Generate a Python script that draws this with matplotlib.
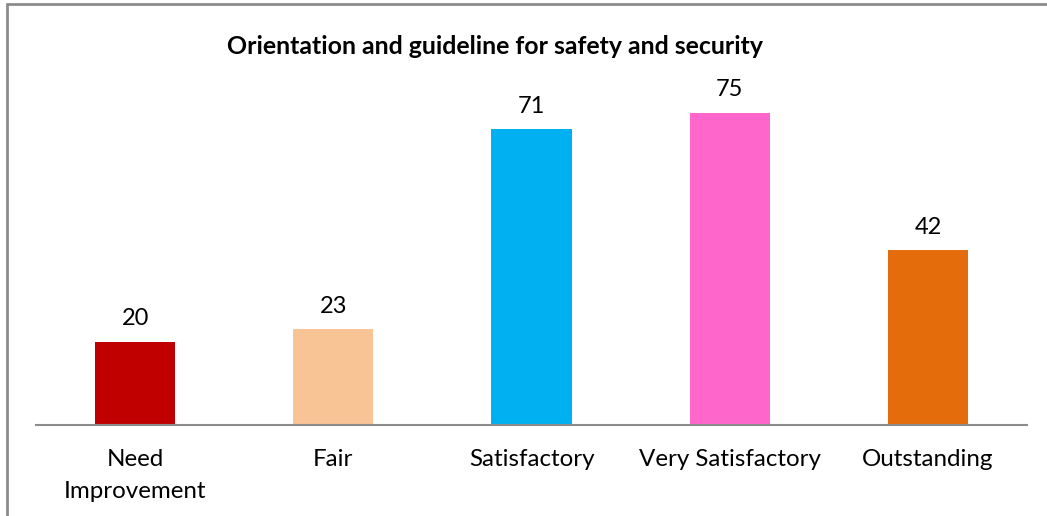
import matplotlib
matplotlib.use("Agg")
import matplotlib.pyplot as plt
from matplotlib.patches import Rectangle

categories = ["Need\nImprovement", "Fair", "Satisfactory", "Very Satisfactory", "Outstanding"]
values = [20, 23, 71, 75, 42]
colors = ["#C00000", "#F8C395", "#00B0F0", "#FF66CC", "#E46C0A"]
title = "Orientation and guideline for safety and security"

plt.rcParams['font.family'] = ['Lato', 'DejaVu Sans']

W, H = 1047, 516
fig = plt.figure(figsize=(W/100, H/100), dpi=100)
ax = fig.add_axes([36/W, 1-425/H, (1027-36)/W, 333/H])

x = list(range(len(categories)))
bars = ax.bar(x, values, width=0.405, color=colors, zorder=2)
ax.set_xlim(-0.5, len(categories)-0.5)
ax.set_ylim(0, 80)
for xi, v in zip(x, values):
    ax.annotate(str(v), (xi, v), xytext=(0, 9), textcoords="offset points",
                ha="center", va="bottom", fontsize=17, color="#000000")

ax.set_xticks(x)
ax.set_xticklabels(categories, fontsize=17.4, linespacing=1.6)
ax.tick_params(axis="x", length=0, pad=17.5)
ax.set_yticks([])
for s in ["left", "right", "top"]:
    ax.spines[s].set_visible(False)
ax.spines["bottom"].set_color("#8C8C8C")
ax.spines["bottom"].set_linewidth(1.5)

fig.text(495/W, 1-46/H, title, ha="center", va="center", fontsize=17.9, fontweight="bold")

fig.patches.append(Rectangle((7/W, -0.1), 1.2, 1-4/H+0.1, transform=fig.transFigure,
                             fill=False, edgecolor="#8C8C8C", linewidth=2))

fig.savefig("out.png", dpi=100)
